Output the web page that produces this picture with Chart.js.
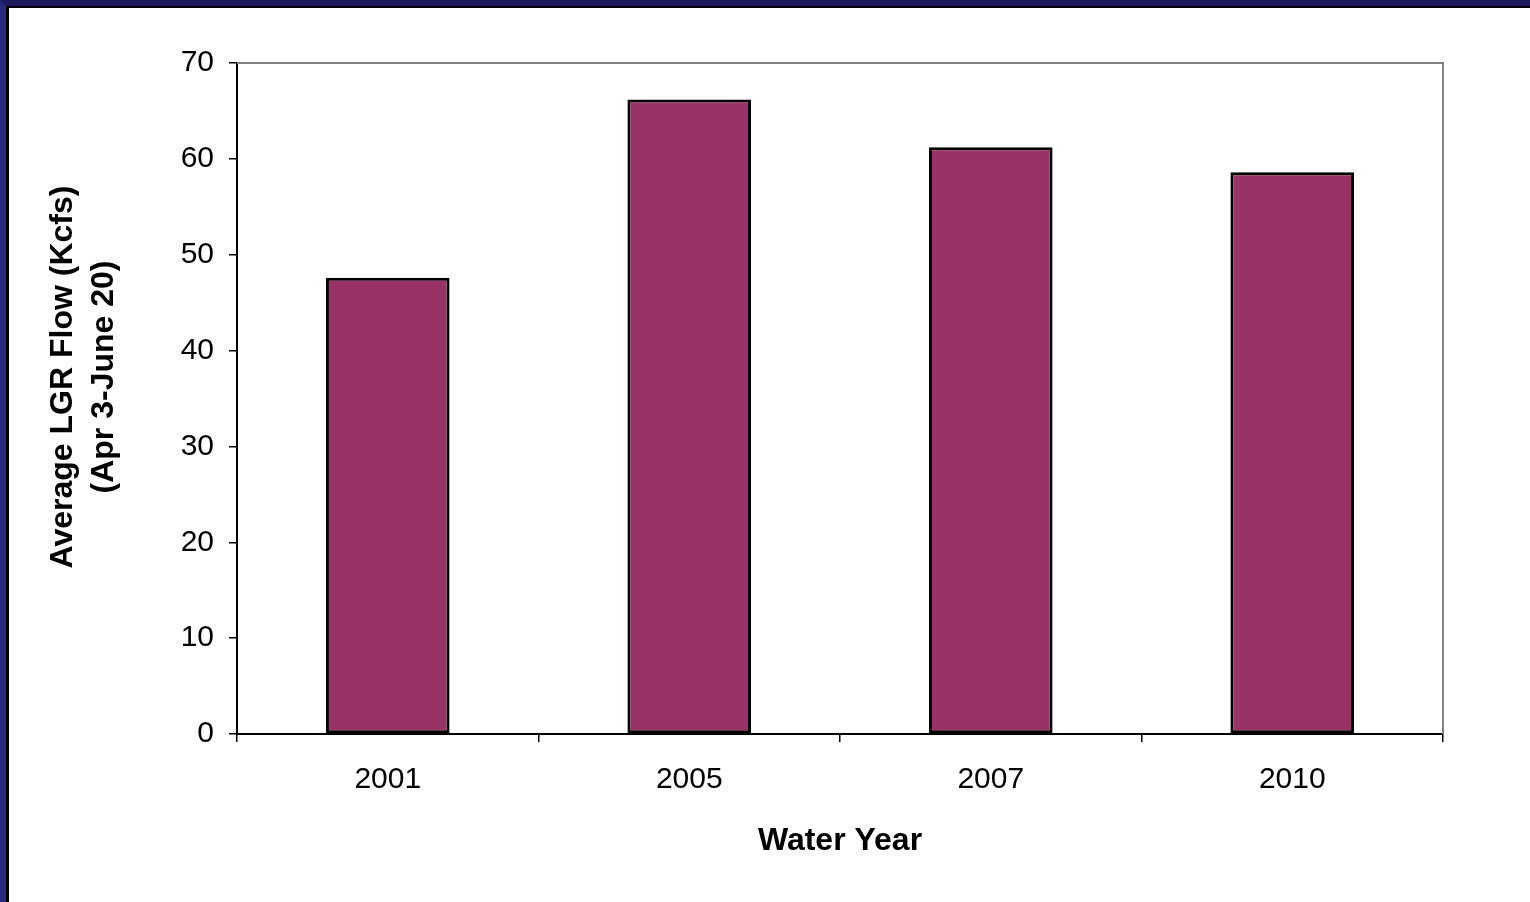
<!DOCTYPE html>
<html>
<head>
<meta charset="utf-8">
<title>Average LGR Flow by Water Year</title>
<script src="https://cdn.jsdelivr.net/npm/chart.js@4/dist/chart.umd.min.js"></script>
<style>
  html, body { margin: 0; padding: 0; background: #fff; overflow: hidden; }
  #frame {
    position: absolute; left: 0; top: 0; width: 1530px; height: 902px;
    box-sizing: border-box;
    border-top: 6px solid #1c1a5a;
    border-left: 6px solid #28287c;
  }
  #inner {
    position: absolute; left: 0; top: 0; right: 0; bottom: 0;
    border-top: 2px solid #000;
    border-left: 3px solid #000;
  }
  #wrap { position: absolute; left: 0; top: 0; width: 1521px; height: 894px; }
</style>
</head>
<body>
<div id="frame"><div id="inner"><div id="wrap"><canvas id="flowChart"></canvas></div></div></div>
<script>
const years = ['2001', '2005', '2007', '2010'];
const avgFlow = [47.6, 66.2, 61.2, 58.6];
const yTicks = [0, 10, 20, 30, 40, 50, 60, 70];
const yTitle = ['Average LGR Flow (Kcfs)', '(Apr 3-June 20)'];
const xTitle = 'Water Year';

const FONT = '"Liberation Sans", Arial, sans-serif';

// gray frame on top and right of the plot area, plus the rotated y title
const plotFrame = {
  id: 'plotFrame',
  afterDraw(chart) {
    const { ctx, chartArea: a } = chart;
    ctx.save();
    ctx.strokeStyle = '#808080';
    ctx.lineWidth = 2;
    ctx.beginPath();
    ctx.moveTo(a.left, a.top);
    ctx.lineTo(a.right, a.top);
    ctx.lineTo(a.right, a.bottom);
    ctx.stroke();

    ctx.fillStyle = '#000';
    ctx.font = 'bold 32px ' + FONT;
    ctx.textAlign = 'center';
    ctx.textBaseline = 'middle';
    ctx.translate(0, 369);
    ctx.rotate(-Math.PI / 2);
    ctx.fillText(yTitle[0], 0, 54);
    ctx.fillText(yTitle[1], 0, 95);
    ctx.restore();
  }
};

new Chart(document.getElementById('flowChart'), {
  type: 'bar',
  data: {
    labels: years,
    datasets: [{
      data: avgFlow,
      backgroundColor: '#993366',
      borderColor: '#000',
      borderWidth: 3,
      borderSkipped: false,
      categoryPercentage: 1,
      barPercentage: 0.41
    }]
  },
  options: {
    responsive: true,
    maintainAspectRatio: false,
    animation: false,
    layout: { padding: { top: 55, right: 87, left: 0, bottom: 42 } },
    plugins: {
      legend: { display: false },
      tooltip: { enabled: false }
    },
    scales: {
      x: {
        grid: {
          offset: true,
          drawOnChartArea: false,
          drawTicks: true,
          tickLength: 8,
          color: '#000',
          lineWidth: 1.5
        },
        border: { color: '#000', width: 2 },
        ticks: {
          color: '#000',
          padding: 20,
          font: { family: FONT, size: 30 }
        },
        title: {
          display: true,
          text: xTitle,
          color: '#000',
          font: { family: FONT, size: 32, weight: 'bold' },
          padding: { top: 20, bottom: 0 }
        },
        afterFit(scale) { scale.height = 126; }
      },
      y: {
        min: 0,
        max: 70,
        afterBuildTicks(scale) { scale.ticks = yTicks.map(v => ({ value: v })); },
        grid: {
          drawOnChartArea: false,
          drawTicks: true,
          tickLength: 8,
          color: '#000',
          lineWidth: 1.5
        },
        border: { color: '#000', width: 2 },
        ticks: {
          color: '#000',
          padding: 15,
          font: { family: FONT, size: 30 }
        },
        afterFit(scale) { scale.width = 228; }
      }
    }
  },
  plugins: [plotFrame]
});
</script>
</body>
</html>
